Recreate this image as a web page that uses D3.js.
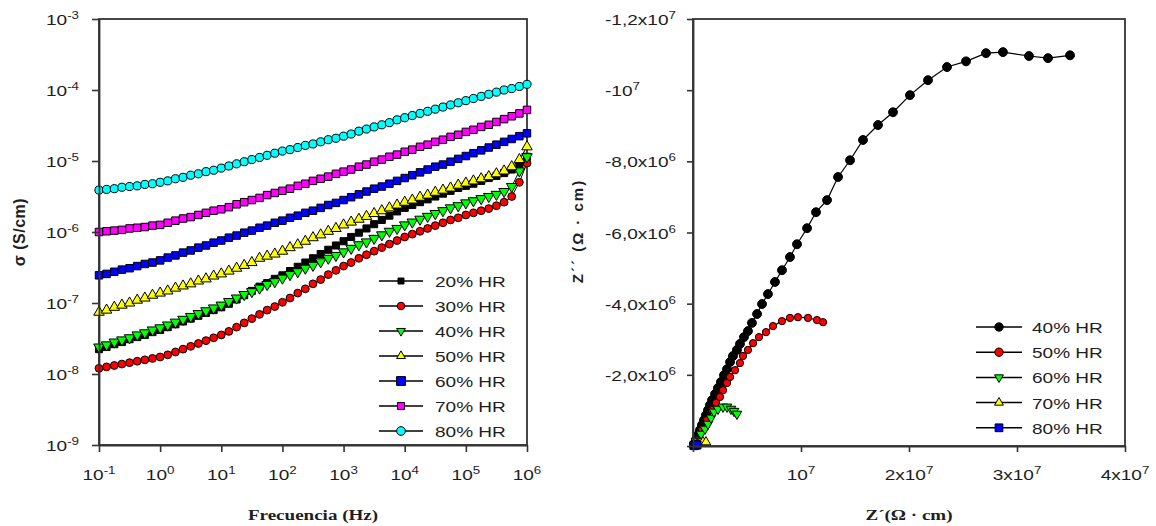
<!DOCTYPE html>
<html>
<head>
<meta charset="utf-8">
<script src="https://cdn.jsdelivr.net/npm/d3@7"></script>
<style>
  body { margin: 0; background: #fff; }
  svg { display: block; }
</style>
</head>
<body>
<svg id="chart" width="1156" height="526"></svg>
<script>
// ---------------- Conductivity vs frequency (left panel) ----------------
const freqHz = [
  0.1, 0.133, 0.178, 0.237, 0.316, 0.422, 0.562, 0.75,
  1, 1.33, 1.78, 2.37, 3.16, 4.22, 5.62, 7.5,
  10, 13.3, 17.8, 23.7, 31.6, 42.2, 56.2, 75,
  100, 133, 178, 237, 316, 422, 562, 750,
  1000, 1330, 1780, 2370, 3160, 4220, 5620, 7500,
  10000, 13300, 17800, 23700, 31600, 42200, 56200, 75000,
  100000, 133000, 178000, 237000, 316000, 422000, 562000, 750000,
  1000000
];

// log10 of conductivity (S/cm) for each relative humidity
const logSigma20 = [
  -7.65, -7.62, -7.58, -7.55, -7.51, -7.48, -7.45, -7.41,
  -7.38, -7.34, -7.30, -7.26, -7.22, -7.18, -7.14, -7.10,
  -7.06, -7.01, -6.95, -6.89, -6.83, -6.77, -6.72, -6.66,
  -6.61, -6.55, -6.49, -6.43, -6.37, -6.31, -6.25, -6.19,
  -6.13, -6.07, -6.01, -5.95, -5.89, -5.83, -5.77, -5.71,
  -5.66, -5.62, -5.58, -5.54, -5.50, -5.46, -5.42, -5.38,
  -5.35, -5.32, -5.28, -5.24, -5.21, -5.17, -5.12, -5.05,
  -4.94
];
const logSigma30 = [
  -7.92, -7.90, -7.88, -7.86, -7.84, -7.82, -7.80, -7.78,
  -7.76, -7.73, -7.69, -7.65, -7.61, -7.57, -7.53, -7.49,
  -7.45, -7.40, -7.34, -7.28, -7.22, -7.16, -7.10, -7.05,
  -6.99, -6.93, -6.86, -6.80, -6.73, -6.67, -6.60, -6.54,
  -6.48, -6.43, -6.37, -6.32, -6.27, -6.22, -6.17, -6.12,
  -6.07, -6.03, -5.99, -5.95, -5.91, -5.87, -5.83, -5.80,
  -5.76, -5.73, -5.70, -5.67, -5.63, -5.58, -5.50, -5.30,
  -5.03
];
const logSigma40 = [
  -7.62, -7.59, -7.55, -7.52, -7.49, -7.45, -7.42, -7.38,
  -7.35, -7.31, -7.27, -7.23, -7.19, -7.15, -7.11, -7.07,
  -7.03, -6.98, -6.93, -6.88, -6.84, -6.79, -6.74, -6.70,
  -6.65, -6.60, -6.56, -6.51, -6.47, -6.42, -6.37, -6.33,
  -6.28, -6.23, -6.18, -6.14, -6.09, -6.04, -5.99, -5.95,
  -5.90, -5.86, -5.82, -5.78, -5.74, -5.70, -5.66, -5.63,
  -5.59, -5.56, -5.53, -5.50, -5.47, -5.43, -5.36, -5.14,
  -4.94
];
const logSigma50 = [
  -7.13, -7.10, -7.06, -7.03, -7.00, -6.96, -6.93, -6.89,
  -6.86, -6.83, -6.79, -6.76, -6.73, -6.69, -6.66, -6.62,
  -6.59, -6.55, -6.51, -6.47, -6.43, -6.37, -6.34, -6.31,
  -6.27, -6.22, -6.18, -6.13, -6.08, -6.04, -5.99, -5.95,
  -5.90, -5.86, -5.82, -5.78, -5.74, -5.70, -5.66, -5.62,
  -5.58, -5.55, -5.51, -5.48, -5.44, -5.41, -5.38, -5.34,
  -5.31, -5.28, -5.25, -5.22, -5.18, -5.14, -5.08, -4.98,
  -4.80
];
const logSigma60 = [
  -6.61, -6.59, -6.56, -6.53, -6.51, -6.48, -6.45, -6.43,
  -6.40, -6.36, -6.33, -6.29, -6.26, -6.22, -6.19, -6.15,
  -6.12, -6.08, -6.05, -6.01, -5.98, -5.94, -5.91, -5.87,
  -5.84, -5.80, -5.77, -5.73, -5.70, -5.66, -5.62, -5.59,
  -5.55, -5.51, -5.47, -5.43, -5.39, -5.36, -5.32, -5.28,
  -5.24, -5.20, -5.16, -5.12, -5.08, -5.05, -5.01, -4.97,
  -4.93, -4.89, -4.85, -4.81, -4.77, -4.73, -4.69, -4.65,
  -4.61
];
const logSigma70 = [
  -6.00, -5.99, -5.98, -5.97, -5.95, -5.94, -5.93, -5.91,
  -5.90, -5.87, -5.84, -5.81, -5.79, -5.76, -5.73, -5.70,
  -5.68, -5.65, -5.61, -5.58, -5.55, -5.52, -5.48, -5.45,
  -5.42, -5.39, -5.35, -5.32, -5.28, -5.25, -5.22, -5.18,
  -5.15, -5.12, -5.08, -5.05, -5.01, -4.98, -4.94, -4.91,
  -4.87, -4.84, -4.80, -4.77, -4.73, -4.70, -4.66, -4.63,
  -4.59, -4.56, -4.52, -4.49, -4.45, -4.41, -4.37, -4.33,
  -4.28
];
const logSigma80 = [
  -5.41, -5.40, -5.39, -5.37, -5.36, -5.35, -5.33, -5.32,
  -5.30, -5.28, -5.25, -5.23, -5.20, -5.18, -5.15, -5.13,
  -5.10, -5.07, -5.04, -5.01, -4.98, -4.95, -4.92, -4.89,
  -4.86, -4.84, -4.81, -4.78, -4.76, -4.73, -4.70, -4.68,
  -4.65, -4.62, -4.58, -4.55, -4.52, -4.49, -4.46, -4.42,
  -4.39, -4.36, -4.33, -4.30, -4.27, -4.24, -4.21, -4.18,
  -4.15, -4.12, -4.09, -4.06, -4.03, -4.00, -3.98, -3.95,
  -3.92
];

const leftLabels = ["20% HR", "30% HR", "40% HR", "50% HR", "60% HR", "70% HR", "80% HR"];
const leftSeriesData = [logSigma20, logSigma30, logSigma40, logSigma50, logSigma60, logSigma70, logSigma80];

const leftXTicks = [0.1, 1, 10, 100, 1e3, 1e4, 1e5, 1e6];
const leftXTickExp = ["-1", "0", "1", "2", "3", "4", "5", "6"];
const leftYTicks = [1e-9, 1e-8, 1e-7, 1e-6, 1e-5, 1e-4, 1e-3];
const leftYTickExp = ["-9", "-8", "-7", "-6", "-5", "-4", "-3"];

// ---------------- Nyquist plot (right panel) ----------------
const zReal40 = [
  0.09e6, 0.28e6, 0.46e6, 0.65e6, 0.83e6, 1.02e6, 1.20e6, 1.39e6, 1.57e6, 1.76e6,
  2.04e6, 2.31e6, 2.59e6, 2.87e6, 3.15e6, 3.43e6, 3.70e6, 4.07e6, 4.35e6, 4.72e6,
  5.09e6, 5.46e6, 5.93e6, 6.39e6, 6.94e6, 7.59e6, 8.24e6, 8.98e6, 9.63e6, 10.56e6,
  11.39e6, 12.41e6, 13.43e6, 14.54e6, 15.74e6, 17.13e6, 18.52e6, 20.09e6, 21.76e6, 23.52e6,
  25.28e6, 27.13e6, 28.70e6, 31.11e6, 32.87e6, 34.91e6
];
const zImag40 = [
  -0.06e6, -0.17e6, -0.31e6, -0.45e6, -0.59e6, -0.73e6, -0.87e6, -1.01e6, -1.15e6, -1.29e6,
  -1.46e6, -1.63e6, -1.80e6, -1.99e6, -2.16e6, -2.36e6, -2.53e6, -2.70e6, -2.87e6, -3.06e6,
  -3.23e6, -3.46e6, -3.71e6, -3.99e6, -4.27e6, -4.61e6, -4.94e6, -5.31e6, -5.67e6, -6.12e6,
  -6.57e6, -6.91e6, -7.56e6, -8.03e6, -8.60e6, -9.02e6, -9.38e6, -9.86e6, -10.28e6, -10.65e6,
  -10.81e6, -11.04e6, -11.07e6, -10.96e6, -10.90e6, -10.98e6
];
const zReal50 = [
  0.37e6, 0.83e6, 1.30e6, 1.76e6, 2.13e6, 2.50e6, 2.78e6, 3.15e6, 3.43e6, 3.89e6,
  4.35e6, 4.63e6, 5.09e6, 5.56e6, 6.11e6, 6.76e6, 7.41e6, 8.24e6, 8.98e6, 9.72e6,
  10.65e6, 11.48e6, 12.04e6
];
const zImag50 = [
  -0.17e6, -0.45e6, -0.73e6, -1.01e6, -1.21e6, -1.38e6, -1.57e6, -1.77e6, -1.94e6, -2.13e6,
  -2.33e6, -2.53e6, -2.70e6, -2.89e6, -3.06e6, -3.20e6, -3.37e6, -3.51e6, -3.60e6, -3.62e6,
  -3.60e6, -3.54e6, -3.48e6
];
const zReal60 = [0.28e6, 0.74e6, 1.11e6, 1.39e6, 1.67e6, 1.94e6, 2.31e6, 2.78e6, 3.15e6, 3.52e6, 3.80e6, 4.07e6];
const zImag60 = [-0.14e6, -0.34e6, -0.48e6, -0.62e6, -0.79e6, -0.96e6, -1.04e6, -1.10e6, -1.10e6, -1.04e6, -0.98e6, -0.90e6];
const zReal70 = [0.09e6, 0.37e6, 0.65e6, 0.93e6, 1.20e6];
const zImag70 = [-0.03e6, -0.06e6, -0.08e6, -0.11e6, -0.11e6];
const zReal80 = [0.09e6, 0.19e6, 0.28e6, 0.37e6];
const zImag80 = [-0.01e6, -0.03e6, -0.03e6, -0.03e6];

const rightLabels = ["40% HR", "50% HR", "60% HR", "70% HR", "80% HR"];
const rightReal = [zReal40, zReal50, zReal60, zReal70, zReal80];
const rightImag = [zImag40, zImag50, zImag60, zImag70, zImag80];

const rightXTicks = [0, 1e7, 2e7, 3e7, 4e7];
const rightXTickBase = ["", "10", "2x10", "3x10", "4x10"];
const rightXTickExp = ["", "7", "7", "7", "7"];
const rightYTicks = [0, -2e6, -4e6, -6e6, -8e6, -1e7, -1.2e7];
const rightYTickBase = ["", "-2,0x10", "-4,0x10", "-6,0x10", "-8,0x10", "-10", "-1,2x10"];
const rightYTickExp = ["", "6", "6", "6", "6", "7", "7"];

// ---------------- styles ----------------
const SX = 1.27;                      // horizontal stretch applied to all horizontal text
const SANS = "'Liberation Sans', Arial, sans-serif";
const SERIF = "'Liberation Serif', 'Times New Roman', serif";
const TEXT = "#1e1e1e";
const AXIS = "#333";

const leftStyles = [
  { shape: "square", fill: "#000000", size: 50, legendSize: 36 },
  { shape: "circle", fill: "#ff0000", size: 48, legendSize: 45 },
  { shape: "triDown", fill: "#00ff00", size: 48, legendSize: 34 },
  { shape: "triUp", fill: "#ffff00", size: 48, legendSize: 34 },
  { shape: "square", fill: "#0000ff", size: 56, legendSize: 78 },
  { shape: "square", fill: "#ff00ff", size: 56, legendSize: 50 },
  { shape: "circle", fill: "#00ffff", size: 52, legendSize: 60 }
];
const rightStyles = [
  { shape: "circle", fill: "#000000", size: 62, legendSize: 55 },
  { shape: "circle", fill: "#ff0000", size: 42, legendSize: 55 },
  { shape: "triDown", fill: "#00ff00", size: 40, legendSize: 34 },
  { shape: "triUp", fill: "#ffff00", size: 40, legendSize: 34 },
  { shape: "square", fill: "#0000ff", size: 64, legendSize: 60 }
];

const svg = d3.select("#chart");

function symbolPath(shape, size) {
  const type = shape === "square" ? d3.symbolSquare
    : shape === "circle" ? d3.symbolCircle
    : d3.symbolTriangle;
  return d3.symbol().type(type).size(size)();
}
function drawMarker(g, x, y, st, size) {
  g.append("path")
    .attr("d", symbolPath(st.shape, size))
    .attr("transform", `translate(${x},${y})` + (st.shape === "triDown" ? " rotate(180)" : ""))
    .attr("fill", st.fill)
    .attr("stroke", "#000")
    .attr("stroke-width", 1);
}
function stretchedText(g, x, y, anchor, size, family, weight) {
  return g.append("text")
    .attr("transform", `translate(${x},${y}) scale(${SX},1)`)
    .attr("text-anchor", anchor)
    .attr("font-family", family || SANS)
    .attr("font-weight", weight || "normal")
    .attr("font-size", size)
    .attr("fill", TEXT);
}
function supLabel(g, x, y, anchor, base, exp) {
  const t = stretchedText(g, x, y, anchor, 15);
  t.append("tspan").text(base);
  t.append("tspan").attr("font-size", 10.5).attr("dy", -6).text(exp);
  return t;
}
function styleAxis(g) {
  g.select(".domain").attr("stroke", AXIS).attr("stroke-width", 1.8);
  g.selectAll(".tick line").attr("stroke", AXIS).attr("stroke-width", 1.6);
}

// ---------------- left panel ----------------
const xL = d3.scaleLog().domain([0.1, 1e6]).range([99, 527]);
const yL = d3.scaleLog().domain([1e-9, 1e-3]).range([445, 19]);

svg.append("rect")
  .attr("x", xL(0.1)).attr("y", yL(1e-3))
  .attr("width", xL(1e6) - xL(0.1)).attr("height", yL(1e-9) - yL(1e-3))
  .attr("fill", "none").attr("stroke", AXIS).attr("stroke-width", 1.8);

const leftPlot = svg.append("g");
const lineL = d3.line().x(d => xL(d.f)).y(d => yL(d.s));
leftSeriesData.forEach((logs, k) => {
  const pts = freqHz.map((f, i) => ({ f, s: 10 ** logs[i] }));
  const g = leftPlot.append("g");
  g.append("path").datum(pts).attr("d", lineL)
    .attr("fill", "none").attr("stroke", "#000").attr("stroke-width", 1);
  pts.forEach(p => drawMarker(g, xL(p.f), yL(p.s), leftStyles[k], leftStyles[k].size));
});

const gxL = svg.append("g").attr("transform", `translate(0,${yL(1e-9)})`)
  .call(d3.axisBottom(xL).tickValues(leftXTicks).tickFormat("").tickSize(7).tickSizeOuter(0));
styleAxis(gxL);
const gyL = svg.append("g").attr("transform", `translate(${xL(0.1)},0)`)
  .call(d3.axisLeft(yL).tickValues(leftYTicks).tickFormat("").tickSize(7).tickSizeOuter(0));
styleAxis(gyL);

leftXTicks.forEach((v, i) => supLabel(svg, xL(v), 480, "middle", "10", leftXTickExp[i]));
leftYTicks.forEach((v, i) => supLabel(svg, 79, yL(v) + 6, "end", "10", leftYTickExp[i]));

stretchedText(svg, 313, 520, "middle", 15, SERIF, "bold").text("Frecuencia (Hz)");
svg.append("text")
  .attr("transform", "translate(25,232) rotate(-90)")
  .attr("text-anchor", "middle")
  .attr("font-family", SANS).attr("font-weight", "bold").attr("font-size", 16)
  .attr("letter-spacing", 0.5)
  .attr("fill", TEXT)
  .text("σ (S/cm)");

// legend
const legL = svg.append("g");
leftLabels.forEach((lab, i) => {
  const ly = 281 + i * 25;
  legL.append("line").attr("x1", 379).attr("x2", 423).attr("y1", ly).attr("y2", ly)
    .attr("stroke", "#000").attr("stroke-width", 1.5);
  drawMarker(legL, 401, ly, leftStyles[i], leftStyles[i].legendSize);
  stretchedText(legL, 435, ly + 6, "start", 15).text(lab);
});

// ---------------- right panel ----------------
const xR = d3.scaleLinear().domain([0, 4e7]).range([693, 1125]);
const yR = d3.scaleLinear().domain([0, -1.2e7]).range([446, 19]);

svg.append("rect")
  .attr("x", xR(0)).attr("y", yR(-1.2e7))
  .attr("width", xR(4e7) - xR(0)).attr("height", yR(0) - yR(-1.2e7))
  .attr("fill", "none").attr("stroke", AXIS).attr("stroke-width", 1.8);

const rightPlot = svg.append("g");
const lineR = d3.line().x(d => xR(d.re)).y(d => yR(d.im));
rightReal.forEach((re, k) => {
  const pts = re.map((r, i) => ({ re: r, im: rightImag[k][i] }));
  const g = rightPlot.append("g");
  g.append("path").datum(pts).attr("d", lineR)
    .attr("fill", "none").attr("stroke", "#000").attr("stroke-width", 1.2);
  pts.forEach(p => drawMarker(g, xR(p.re), yR(p.im), rightStyles[k], rightStyles[k].size));
});

const gxR = svg.append("g").attr("transform", `translate(0,${yR(0)})`)
  .call(d3.axisBottom(xR).tickValues(rightXTicks).tickFormat("").tickSize(6).tickSizeOuter(0));
styleAxis(gxR);
const gyR = svg.append("g").attr("transform", `translate(${xR(0)},0)`)
  .call(d3.axisLeft(yR).tickValues(rightYTicks).tickFormat("").tickSize(6).tickSizeOuter(0));
styleAxis(gyR);

rightXTicks.forEach((v, i) => {
  if (rightXTickBase[i]) supLabel(svg, xR(v), 480, "middle", rightXTickBase[i], rightXTickExp[i]);
});
rightYTicks.forEach((v, i) => {
  if (rightYTickBase[i]) supLabel(svg, 605, yR(v) + 6, "start", rightYTickBase[i], rightYTickExp[i]);
});

stretchedText(svg, 909, 520, "middle", 15, SERIF, "bold").text("Z´(Ω · cm)");
svg.append("text")
  .attr("transform", "translate(583,231) rotate(-90)")
  .attr("text-anchor", "middle")
  .attr("font-family", SANS).attr("font-weight", "bold").attr("font-size", 15)
  .attr("letter-spacing", 2)
  .attr("fill", TEXT)
  .text("Z´´ (Ω · cm)");

const legR = svg.append("g");
rightLabels.forEach((lab, i) => {
  const ly = 327 + i * 25.2;
  legR.append("line").attr("x1", 976).attr("x2", 1022).attr("y1", ly).attr("y2", ly)
    .attr("stroke", "#000").attr("stroke-width", 1.5);
  drawMarker(legR, 999, ly, rightStyles[i], rightStyles[i].legendSize);
  stretchedText(legR, 1032, ly + 6, "start", 15).text(lab);
});
</script>
</body>
</html>
